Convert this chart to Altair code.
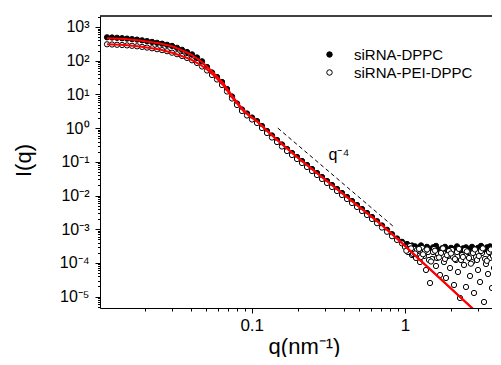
import altair as alt
import pandas as pd

series_names = ["siRNA-DPPC", "siRNA-PEI-DPPC"]

# siRNA-DPPC (filled circles)
q_dppc = [0.01138, 0.01227, 0.01323, 0.01426, 0.01537, 0.01657, 0.01786, 0.01926, 0.02075, 0.02237,
          0.02412, 0.02600, 0.02803, 0.03022, 0.03257, 0.03511, 0.03785, 0.04081, 0.04398, 0.04741,
          0.05111, 0.05508, 0.05937, 0.06402, 0.06901, 0.07439, 0.08019, 0.08644, 0.09318, 0.1005,
          0.1083, 0.1167, 0.1258, 0.1356, 0.1462, 0.1576, 0.1699, 0.1832, 0.1975, 0.2129,
          0.2295, 0.2474, 0.2667, 0.2875, 0.3099, 0.3341, 0.3601, 0.3882, 0.4185, 0.4512,
          0.4864, 0.5243, 0.5652, 0.6093, 0.6568, 0.7080, 0.7633, 0.8228, 0.8869, 0.9560,
          1.031, 1.111,
          1.162, 1.216, 1.272, 1.330, 1.391, 1.456, 1.523, 1.593, 1.667, 1.743,
          1.824, 1.908, 1.996, 2.088, 2.184, 2.285, 2.390, 2.500, 2.616, 2.736,
          2.862, 2.994, 3.133, 3.276, 3.427, 3.585, 3.750, 3.924, 4.104]
i_dppc = [494.8, 488.0, 478.1, 465.2, 452.7, 437.4, 422.8, 402.9, 381.5, 361.3,
          339.8, 319.6, 296.4, 274.9, 241.4, 210.6, 181.3, 153.8, 124.5, 96.0,
          65.0, 44.66, 32.83, 23.33, 14.46, 8.66, 5.37, 3.56, 2.71, 2.06,
          1.62, 1.154, 0.820, 0.603, 0.443, 0.326, 0.2398, 0.1825, 0.1388, 0.1056,
          0.0804, 0.0612, 0.0465, 0.0354, 0.0269, 0.0205, 0.0156, 0.01187, 0.00903, 0.00687,
          0.00523, 0.00398, 0.00303, 0.00230, 0.001728, 0.001288, 0.000960, 0.000711, 0.000530, 0.000423,
          0.000364, 0.000328,
          3.1e-4, 2.8e-4, 3.3e-4, 2.6e-4, 3.0e-4, 2.5e-4, 2.9e-4, 3.2e-4, 2.4e-4, 2.7e-4,
          3.0e-4, 2.3e-4, 2.8e-4, 2.6e-4, 3.1e-4, 2.2e-4, 2.7e-4, 2.9e-4, 2.4e-4, 3.0e-4,
          2.6e-4, 2.8e-4, 3.2e-4, 2.5e-4, 2.9e-4, 3.1e-4, 2.7e-4, 3.3e-4, 3.0e-4]

# siRNA-PEI-DPPC (open circles)
q_pei = [0.01138, 0.01227, 0.01323, 0.01426, 0.01537, 0.01657, 0.01786, 0.01926, 0.02075, 0.02237,
         0.02412, 0.02600, 0.02803, 0.03022, 0.03257, 0.03511, 0.03785, 0.04081, 0.04398, 0.04741,
         0.05111, 0.05508, 0.05937, 0.06402, 0.06901, 0.07439, 0.08019, 0.08644, 0.09318, 0.1005,
         0.1083, 0.1167, 0.1258, 0.1356, 0.1462, 0.1576, 0.1699, 0.1832, 0.1975, 0.2129,
         0.2295, 0.2474, 0.2667, 0.2875, 0.3099, 0.3341, 0.3601, 0.3882, 0.4185, 0.4512,
         0.4864, 0.5243, 0.5652, 0.6093, 0.6568, 0.7080, 0.7633, 0.8228, 0.8869, 0.9560,
         1.000, 1.046, 1.078, 1.111, 1.145, 1.180, 1.216, 1.253, 1.291, 1.330,
         1.371, 1.413, 1.456, 1.500, 1.546, 1.593, 1.642, 1.692, 1.743, 1.796,
         1.851, 1.908, 1.966, 2.026, 2.088, 2.151, 2.217, 2.285, 2.354, 2.426,
         2.500, 2.576, 2.655, 2.736, 2.819, 2.906, 2.994, 3.086, 3.180, 3.276,
         3.376, 3.479, 3.585, 3.694, 3.807, 3.924, 4.043, 4.167,
         1.062, 1.128, 1.198, 1.272, 1.350, 1.434, 1.523, 1.617, 1.717, 1.823,
         1.936, 2.056, 2.184, 2.319, 2.462, 2.615, 2.777, 2.949, 3.133, 3.327,
         3.532, 3.750, 3.983, 4.104,
         1.020, 1.095, 1.163, 1.235, 1.311, 1.392, 1.478, 1.569, 1.666, 1.769,
         1.878, 1.994, 2.117, 2.248, 2.387, 2.534, 2.690, 2.856, 3.032, 3.219,
         3.418, 3.629, 3.853, 4.090]
i_pei = [306.7, 302.5, 296.4, 292.4, 284.4, 276.8, 267.5, 256.8, 244.8, 233.3,
         219.4, 206.3, 191.4, 172.8, 155.9, 137.9, 120.3, 102.8, 85.5, 67.3,
         51.2, 37.6, 27.7, 19.0, 12.19, 7.55, 4.85, 3.22, 2.37, 1.80,
         1.417, 1.006, 0.715, 0.526, 0.386, 0.284, 0.209, 0.159, 0.121, 0.0921,
         0.0701, 0.0534, 0.0405, 0.0309, 0.0235, 0.0179, 0.0136, 0.01035, 0.00787, 0.00599,
         0.00456, 0.00347, 0.00264, 0.00201, 0.00151, 0.00112, 0.00084, 0.00062, 0.00048, 0.00038,
         2.96e-4, 2.10e-4, 3.17e-4, 1.71e-4, 2.58e-4, 1.40e-4, 2.25e-4, 1.06e-4, 2.77e-4, 1.60e-4,
         6.16e-5, 2.10e-4, 2.53e-5, 1.31e-4, 2.58e-4, 8.10e-5, 1.84e-4, 4.38e-5, 2.41e-4, 1.06e-4,
         3.57e-5, 1.60e-4, 7.06e-5, 2.41e-4, 2.21e-5, 1.22e-4, 5.37e-5, 9.08e-6, 1.71e-4, 8.67e-5,
         1.93e-5, 2.10e-4, 4.09e-5, 1.06e-4, 1.28e-5, 1.50e-4, 6.16e-5, 2.71e-5, 1.97e-4, 6.92e-6,
         9.27e-5, 4.69e-5, 1.40e-4, 1.80e-5, 7.06e-5, 1.04e-5, 1.60e-4, 3.57e-5,
         2.58e-4, 1.84e-4, 2.41e-4, 1.50e-4, 2.25e-4, 1.22e-4, 2.10e-4, 1.40e-4, 1.97e-4, 1.31e-4,
         2.25e-4, 1.50e-4, 2.10e-4, 1.22e-4, 2.41e-4, 1.40e-4, 1.97e-4, 1.22e-4, 2.25e-4, 1.31e-4,
         2.10e-4, 1.60e-4, 2.41e-4, 1.22e-4,
         2.3e-4, 2.7e-4, 1.9e-4, 2.6e-4, 1.8e-4, 2.5e-4, 1.1e-4, 2.3e-4, 1.45e-4, 2.7e-4,
         1.7e-4, 1.9e-4, 1.3e-4, 2.6e-4, 1.5e-4, 2.2e-4, 9.5e-5, 2.5e-4, 1.6e-4, 2.7e-4,
         1.15e-4, 2.5e-4, 1.35e-4, 2.8e-4]

# fitted curves (red)
q_fit_dppc = [0.01138, 0.01491, 0.01867, 0.02522, 0.03067, 0.03959, 0.04601, 0.05111, 0.05763, 0.06500,
              0.07551, 0.08774, 0.09747, 0.1083, 0.1316, 0.1600, 0.2066, 0.3242, 0.5087, 0.6868,
              0.8869, 1.253, 1.824, 2.736, 3.585]
i_fit_dppc = [462.0, 440.5, 397.6, 323.9, 263.9, 158.1, 101.4, 67.3, 38.95, 21.79,
              8.37, 3.56, 2.286, 1.624, 0.6916, 0.3150, 0.1170, 0.02271, 0.004404, 0.001476,
              5.30e-4, 1.22e-4, 2.533e-5, 4.59e-6, 1.54e-6]
q_fit_pei = [0.01138, 0.01491, 0.01867, 0.02522, 0.03067, 0.03959, 0.04601, 0.05111, 0.05763, 0.06500,
             0.07551, 0.08774, 0.09747, 0.1083, 0.1316, 0.1600, 0.2066, 0.3242, 0.5087, 0.6868,
             0.8869, 1.253, 1.824, 2.736, 3.585]
i_fit_pei = [306.7, 292.4, 263.9, 214.9, 169.2, 112.3, 77.1, 54.8, 33.98, 19.00,
             7.55, 3.33, 2.21, 1.57, 0.6916, 0.3150, 0.1170, 0.02271, 0.004404, 0.001476,
             5.30e-4, 1.22e-4, 2.533e-5, 4.59e-6, 1.54e-6]

# q^-4 guide line and its label
q_guide = [0.148, 0.86]
i_guide = [1.0, 1.1e-3]
guide_label = ["q\u207b\u2074"]
q_label = [0.371]
i_label = [0.159]

x_domain = [0.01024, 4.166]
y_domain = [4.59e-6, 2120]
x_ticks = [m * 10.0 ** e for e in (-2, -1, 0) for m in range(1, 10)]
x_ticks = [v for v in x_ticks if x_domain[0] <= v <= x_domain[1]]
y_ticks = [m * 10.0 ** e for e in range(-6, 4) for m in range(1, 10)]
y_ticks = [v for v in y_ticks if y_domain[0] <= v <= y_domain[1]]

FONT = "Liberation Sans"
decade = "abs(log(datum.value)/LN10 - round(log(datum.value)/LN10)) < 0.001"

x_axis = alt.Axis(
    values=x_ticks,
    labelExpr="abs(datum.value-0.1)<1e-6 ? '0.1' : (abs(datum.value-1)<1e-6 ? '1' : '')",
    tickSize={"condition": {"test": decade, "value": 5}, "value": 3},
    labelOverlap=False, labelFlush=False, grid=False,
    labelFont=FONT, labelFontSize=17, labelPadding=4, labelColor="black",
    title="q(nm\u207b\u00b9)", titleFont=FONT, titleFontSize=22, titleFontWeight="normal",
    titleX=204, titleY=38, titleAlign="center", titleBaseline="middle", titleColor="black",
)
y_axis = alt.Axis(
    values=y_ticks,
    labelExpr=decade + " ? '10' + ['\u207b\u2075','\u207b\u2074','\u207b\u00b3','\u207b\u00b2','\u207b\u00b9','\u2070','\u00b9','\u00b2','\u00b3'][round(log(datum.value)/LN10) + 5] : ''",
    tickSize={"condition": {"test": decade, "value": 5}, "value": 2.5},
    labelOverlap=False, labelFlush=False, grid=False,
    labelFont=FONT, labelFontSize=16, labelPadding=6, labelColor="black", labelBaseline="middle",
    title="I(q)", titleFont=FONT, titleFontSize=22, titleFontWeight="normal",
    titleX=-77, titleY=144, titleAlign="center", titleBaseline="middle", titleColor="black",
)

X = alt.X("q:Q", scale=alt.Scale(type="log", domain=x_domain, nice=False), axis=x_axis)
Y = alt.Y("I:Q", scale=alt.Scale(type="log", domain=y_domain, nice=False), axis=y_axis)

pts = pd.DataFrame({
    "q": q_dppc + q_pei,
    "I": i_dppc + i_pei,
    "sample": [series_names[0]] * len(q_dppc) + [series_names[1]] * len(q_pei),
})
fits = pd.DataFrame({
    "q": q_fit_dppc + q_fit_pei,
    "I": i_fit_dppc + i_fit_pei,
    "fit": ["a"] * len(q_fit_dppc) + ["b"] * len(q_fit_pei),
})
guide = pd.DataFrame({"q": q_guide, "I": i_guide})
label = pd.DataFrame({"q": q_label, "I": i_label, "t": guide_label})

points = alt.Chart(pts).mark_point(
    shape="circle", filled=True, stroke="black", strokeWidth=1, size=28, opacity=1, clip=True
).encode(
    x=X, y=Y,
    fill=alt.Fill("sample:N", scale=alt.Scale(domain=series_names, range=["black", "white"]),
                  legend=alt.Legend(orient="none", legendX=222, legendY=31, title=None,
                                    labelFont=FONT, labelFontSize=15, labelColor="black",
                                    symbolType="circle", symbolSize=30, symbolStrokeColor="black",
                                    symbolStrokeWidth=1, labelOffset=17, rowPadding=2)),
)
fit_lines = alt.Chart(fits).mark_line(color="#ff0000", strokeWidth=2, clip=True).encode(
    x=X, y=Y, detail="fit:N"
)
guide_line = alt.Chart(guide).mark_line(color="black", strokeWidth=1, strokeDash=[4, 3]).encode(x=X, y=Y)
guide_text = alt.Chart(label).mark_text(font=FONT, fontSize=16, color="black").encode(x=X, y=Y, text="t:N")
top_border = alt.Chart(guide).mark_rule(color="black", strokeWidth=1).encode(
    x=alt.value(0), x2=alt.value(400), y=alt.value(0)
)

chart = alt.layer(points, fit_lines, guide_line, guide_text, top_border).properties(
    width=400, height=292,
    autosize=alt.AutoSizeParams(type="none"),
    padding={"left": 92, "top": 8, "right": -8, "bottom": 49},
).configure_view(strokeWidth=0).configure_axis(
    domainColor="black", tickColor="black", domainWidth=1, tickWidth=1
)

chart.save("out.html", embed_options={"renderer": "svg", "actions": False})
